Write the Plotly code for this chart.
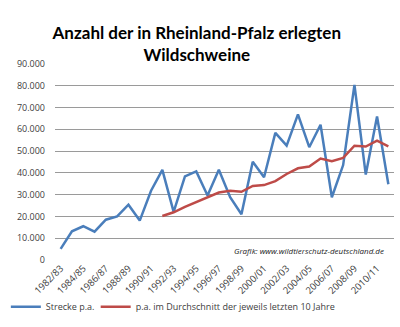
import plotly.graph_objects as go

seasons = ["1982/83","1983/84","1984/85","1985/86","1986/87","1987/88","1988/89","1989/90",
           "1990/91","1991/92","1992/93","1993/94","1994/95","1995/96","1996/97","1997/98",
           "1998/99","1999/00","2000/01","2001/02","2002/03","2003/04","2004/05","2005/06",
           "2006/07","2007/08","2008/09","2009/10","2010/11","2011/12"]
strecke = [5100, 13200, 15500, 13000, 18500, 20000, 25400, 18100, 31800, 41400,
           22100, 38400, 40700, 29600, 41400, 28800, 21000, 45100, 38000, 58400,
           52500, 66900, 51800, 62100, 28800, 43600, 80400, 39200, 65900, 34800]
avg_seasons = seasons[9:]
durchschnitt = [20200, 21900, 24400, 26600, 28500, 31000, 31800, 31300, 34000, 34400,
                36200, 39500, 42100, 42900, 46600, 45400, 46900, 52500, 52100, 54800, 52200]
tick_labels = seasons[::2]

idx = {s: i for i, s in enumerate(seasons)}

fig = go.Figure()
fig.add_trace(go.Scatter(x=[idx[s] for s in seasons], y=strecke, mode="lines",
                         name="Strecke p.a.", line=dict(color="#4A7EBB", width=2.5),
                         legend="legend"))
fig.add_trace(go.Scatter(x=[idx[s] for s in avg_seasons], y=durchschnitt, mode="lines",
                         name="p.a. im Durchschnitt der jeweils letzten 10 Jahre",
                         line=dict(color="#BE4B48", width=2.5), legend="legend2"))

leg_common = dict(orientation="h", xanchor="left", y=-0.238, yanchor="middle",
                  font=dict(size=9, color="#404040"), itemwidth=30,
                  bgcolor="rgba(0,0,0,0)")

fig.update_layout(
    width=400, height=327,
    margin=dict(l=43, r=6, t=64, b=61),
    paper_bgcolor="white", plot_bgcolor="white",
    separators=",.",
    font=dict(family="Open Sans, sans-serif", size=9, color="#404040"),
    title=dict(text="<b>Anzahl der in Rheinland-Pfalz erlegten<br>Wildschweine</b>",
               x=0.492, xanchor="center", y=1 - 39/327, yanchor="middle",
               font=dict(family="Lato, sans-serif", size=17, color="black")),
    xaxis=dict(range=[-0.5, 29.5], tickmode="array",
               tickvals=[idx[s] for s in tick_labels], ticktext=tick_labels,
               tickangle=-45, showgrid=False, zeroline=False, showline=False,
               tickfont=dict(size=9.5, color="#404040"), fixedrange=True),
    yaxis=dict(range=[0, 90000], dtick=10000, tickformat=",d",
               showgrid=True, gridcolor="#9a9a9a", gridwidth=1, zeroline=False,
               showline=False, tickfont=dict(size=9, color="#404040"), ticklabelstandoff=9),
    legend=dict(x=-0.145, **leg_common),
    legend2=dict(x=0.12, **leg_common),
    showlegend=True,
)
fig.add_annotation(text="<i>Grafik: www.wildtierschutz-deutschland.de</i>",
                   xref="paper", yref="paper", x=(386-43)/351, y=(266-256)/202,
                   xanchor="right", yanchor="middle", showarrow=False,
                   font=dict(size=8, color="#1a1a1a"))

fig.write_html("out.html")
